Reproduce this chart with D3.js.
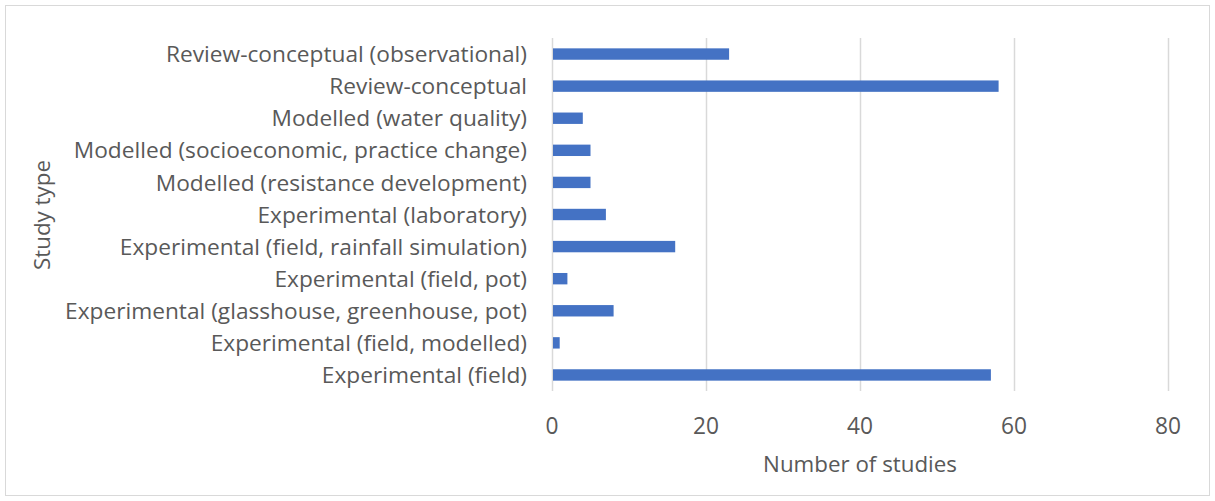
<!DOCTYPE html>
<html>
<head>
<meta charset="utf-8">
<script src="https://cdn.jsdelivr.net/npm/d3@7"></script>
<style>
  html, body { margin: 0; padding: 0; background: #ffffff; }
  svg { display: block; }
  text { font-family: "Open Sans", "Noto Sans", sans-serif; fill: #595959; }
</style>
</head>
<body>
<svg id="chart" width="1215" height="501"></svg>
<script>
// Study types, listed top to bottom as drawn
const categories = [
  "Review-conceptual (observational)",
  "Review-conceptual",
  "Modelled (water quality)",
  "Modelled (socioeconomic, practice change)",
  "Modelled (resistance development)",
  "Experimental (laboratory)",
  "Experimental (field, rainfall simulation)",
  "Experimental (field, pot)",
  "Experimental (glasshouse, greenhouse, pot)",
  "Experimental (field, modelled)",
  "Experimental (field)"
];
// Number of studies per type
const studyCounts = [23, 58, 4, 5, 5, 7, 16, 2, 8, 1, 57];
const xTicks = [0, 20, 40, 60, 80];
const xTitle = "Number of studies";
const yTitle = "Study type";

const svg = d3.select("#chart");
const W = 1215, H = 501;

// Chart frame
svg.append("rect")
  .attr("x", 5.5).attr("y", 5.5)
  .attr("width", W - 11).attr("height", H - 11)
  .attr("fill", "#ffffff")
  .attr("stroke", "#d9d9d9").attr("stroke-width", 1);

const plot = { left: 552, right: 1168, top: 38, bottom: 391 };

const x = d3.scaleLinear().domain([0, 80]).range([plot.left, plot.right]);
const y = d3.scaleBand().domain(categories).range([plot.top, plot.bottom]).paddingInner(0.645).paddingOuter(0.3225);

// Size a text element's font so it spans the given width
function fitFont(sel, targetWidth, base) {
  sel.style("font-size", base + "px");
  const w = sel.node().getComputedTextLength();
  const size = base * targetWidth / w;
  sel.style("font-size", size + "px");
  return size;
}

// Vertical gridlines
svg.append("g")
  .selectAll("line")
  .data(xTicks)
  .join("line")
  .attr("x1", d => Math.round(x(d)) + 0.5)
  .attr("x2", d => Math.round(x(d)) + 0.5)
  .attr("y1", plot.top)
  .attr("y2", plot.bottom)
  .attr("stroke", "#d9d9d9")
  .attr("stroke-width", 1.5);

// Bars
svg.append("g")
  .selectAll("rect")
  .data(categories)
  .join("rect")
  .attr("x", x(0) + 1)
  .attr("y", d => y(d))
  .attr("width", (d, i) => x(studyCounts[i]) - x(0) - 1)
  .attr("height", y.bandwidth())
  .attr("fill", "#4472c4");

// Category labels
const probe = svg.append("text").text("Experimental (glasshouse, greenhouse, pot)");
const labelSize = fitFont(probe, 462, 20);
probe.remove();

svg.append("g")
  .selectAll("text")
  .data(categories)
  .join("text")
  .attr("x", 527)
  .attr("y", d => y(d) + y.bandwidth() / 2)
  .attr("dy", "0.36em")
  .attr("text-anchor", "end")
  .style("font-size", labelSize + "px")
  .text(d => d);

// X tick labels
const tickProbe = svg.append("text").text("20");
const tickSize = fitFont(tickProbe, 26, 22);
tickProbe.remove();

svg.append("g")
  .selectAll("text")
  .data(xTicks)
  .join("text")
  .attr("x", d => x(d))
  .attr("y", 434)
  .attr("text-anchor", "middle")
  .style("font-size", tickSize + "px")
  .text(d => d);

// Axis titles
const xt = svg.append("text")
  .attr("x", 860).attr("y", 472)
  .attr("text-anchor", "middle")
  .text(xTitle);
fitFont(xt, 194, 22);

const yt = svg.append("text")
  .attr("transform", "translate(50,215) rotate(-90)")
  .attr("text-anchor", "middle")
  .text(yTitle);
fitFont(yt, 110, 22);
</script>
</body>
</html>
